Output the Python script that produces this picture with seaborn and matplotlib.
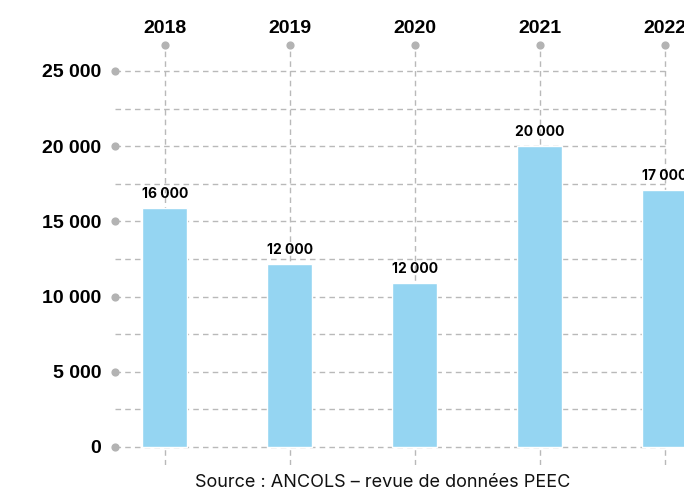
# =========================================
# PEEC - BAR CHART BY YEAR
# =========================================

import numpy as np
import pandas as pd
import matplotlib
matplotlib.use("Agg")
import matplotlib.pyplot as plt
import seaborn as sns

# -------------------------------
# DATA
# -------------------------------

years = ["2018", "2019", "2020", "2021", "2022"]
values = [15900, 12150, 10900, 20000, 17100]
bar_labels = ["16 000", "12 000", "12 000", "20 000", "17 000"]

y_ticks = [0, 5000, 10000, 15000, 20000, 25000]
y_tick_labels = ["0", "5 000", "10 000", "15 000", "20 000", "25 000"]
grid_levels = np.arange(0, 25001, 2500)

source = "Source : ANCOLS \u2013 revue de données PEEC"

df = pd.DataFrame({"year": years, "value": values})

# -------------------------------
# STYLE
# -------------------------------

sns.set_style("white")
plt.rcParams["font.family"] = ["Liberation Sans", "DejaVu Sans"]

bar_color = "#95d5f2"
grid_color = "#b9b9b9"
dot_color = "#b3b3b3"

fig = plt.figure(figsize=(6.84, 4.93), dpi=100)
ax = fig.add_axes([0.168, 0.0568, 0.837, 0.852])

sns.barplot(
    data=df,
    x="year",
    y="value",
    color=bar_color,
    width=0.36,
    saturation=1,
    ax=ax,
    zorder=3
)

x_left = -0.4
x_right = 4.18
y_bottom = -1200
y_top = 26730

ax.set_xlim(x_left, x_right)
ax.set_ylim(y_bottom, y_top)

# GRID LINES
ax.hlines(grid_levels, x_left, 4.0, colors=grid_color, linestyles=(0, (4, 3)),
          linewidth=1, zorder=1)
ax.vlines(range(len(years)), y_bottom, y_top, colors=grid_color,
          linestyles=(0, (4, 3)), linewidth=1, zorder=1)

# DOTS
ax.scatter([x_left] * len(y_ticks), y_ticks, s=24, color=dot_color,
           clip_on=False, zorder=4)
ax.scatter(range(len(years)), [y_top] * len(years), s=24, color=dot_color,
           clip_on=False, zorder=4)

# TICKS
ax.set_yticks(y_ticks)
ax.set_yticklabels(y_tick_labels, fontsize=14, fontweight="bold", color="black")
ax.tick_params(axis="y", length=0, pad=10)

ax.xaxis.tick_top()
ax.set_xticks(range(len(years)))
ax.set_xticklabels(years, fontsize=14, fontweight="bold", color="black")
ax.tick_params(axis="x", length=0, pad=6)

ax.set_xlabel("")
ax.set_ylabel("")

for spine in ax.spines.values():
    spine.set_visible(False)

# BAR LABELS
for i, (v, lab) in enumerate(zip(values, bar_labels)):
    ax.text(i, v + 450, lab, ha="center", va="bottom", fontsize=10,
            fontweight="bold", family=["Inter", "DejaVu Sans"], color="black",
            zorder=5)

# SOURCE
fig.text(0.56, 0.004, source, ha="center", va="bottom", fontsize=13,
         family=["Inter", "DejaVu Sans"], color="#111111")

plt.savefig("out.png", dpi=100)
plt.close()
